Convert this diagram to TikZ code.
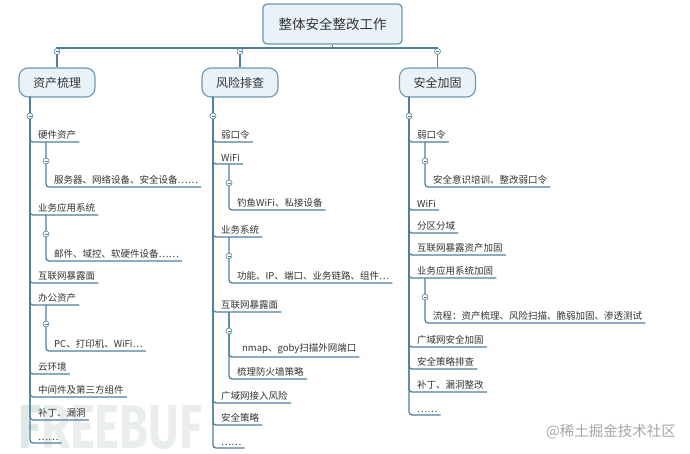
\documentclass[tikz,border=0pt]{standalone}
\usepackage{fontspec}
\setmainfont{Noto Sans CJK SC}
\newfontfamily\wmfont{Fira Sans}
\definecolor{linec}{HTML}{4F7F99}
\definecolor{boxline}{HTML}{6F97B0}
\definecolor{boxfill}{HTML}{EAF2F9}
\definecolor{txtc}{HTML}{333333}
\definecolor{wmc}{HTML}{EAEDED}
\definecolor{wmf}{HTML}{DDE9E9}
\tikzset{
  conn/.style={draw=linec, line width=1.3pt, rounded corners=3pt},
  topconn/.style={draw=linec, line width=1.3pt},
  item/.style={anchor=south west, inner xsep=0pt, inner ysep=2.5pt, text=txtc,
    font=\fontsize{9.5}{11}\selectfont},
  lvlone/.style={draw=boxline, fill=boxfill, line width=1.1pt, rounded corners=9pt,
    minimum width=76pt, minimum height=29pt, inner sep=0pt, text=txtc,
    font=\fontsize{12}{14}\selectfont},
  rootbox/.style={draw=boxline, fill=boxfill, line width=1.3pt, rounded corners=4pt,
    minimum width=139pt, minimum height=40pt, inner sep=0pt, text=txtc,
    font=\fontsize{13.5}{16}\selectfont},
  mcirc/.style={circle, draw=linec, fill=white, minimum size=6pt, inner sep=0pt, line width=0.6pt,
    path picture={\draw[linec, line width=0.5pt] ([xshift=-1.5pt]path picture bounding box.center) -- ([xshift=1.5pt]path picture bounding box.center);}},
}
\begin{document}
\begin{tikzpicture}[x=1pt,y=-1pt]
\useasboundingbox[fill=white] (0,0) rectangle (690,454);
% watermarks
\node[anchor=base west, inner sep=0pt, xscale=0.76, text=wmc,
  font=\wmfont\bfseries\fontsize{62}{62}\selectfont] (wm1) at (18,448) {\textcolor{wmf}{F}REEBUF};
\node[text=black!35, font=\fontsize{14.5}{16}\selectfont, inner sep=0pt] (wm2) at (611,432) {@稀土掘金技术社区};

% root and level one
\node[rootbox] (root) at (332.5,24) {整体安全整改工作};
\node[lvlone] (k1) at (57,82.5) {资产梳理};
\node[lvlone] (k2) at (240,82.5) {风险排查};
\node[lvlone] (k3) at (437.5,82.5) {安全加固};
\draw[topconn] (root.south) -- ++(0,3.5) -| (k1.north);
\draw[topconn] (root.south) -- ++(0,3.5) -| (k2.north);
\draw[topconn] (root.south) -- ++(0,3.5) -| (k3.north);

\coordinate (t1) at (30,97);
\coordinate (t2) at (213,97);
\coordinate (t3) at (409,97);

% column 1
\node[item] (a1) at (38,142) {硬件资产};
\node[item] (a1s) at (54,187) {服务器、网络设备、安全设备……};
\node[item] (a2) at (38,215) {业务应用系统};
\node[item] (a2s) at (54,261) {邮件、域控、软硬件设备……};
\node[item] (a3) at (38,283) {互联网暴露面};
\node[item] (a4) at (38,305) {办公资产};
\node[item] (a4s) at (54,351) {PC、打印机、WiFi…};
\node[item] (a5) at (38,374) {云环境};
\node[item] (a6) at (38,397) {中间件及第三方组件};
\node[item] (a7) at (38,420) {补丁、漏洞};
\node[item] (a8) at (38,443) {……};
\foreach \n in {a1,a2,a3,a4,a5,a6,a7,a8}
  \draw[conn] (t1) |- ([xshift=3pt]\n.south east);
\draw[conn] ([xshift=8pt]a1.south west) |- ([xshift=3pt]a1s.south east);
\draw[conn] ([xshift=8pt]a2.south west) |- ([xshift=3pt]a2s.south east);
\draw[conn] ([xshift=8pt]a4.south west) |- ([xshift=3pt]a4s.south east);

% column 2
\node[item] (b1) at (221,142) {弱口令};
\node[item] (b2) at (221,164) {WiFi};
\node[item] (b2s) at (237,210) {钓鱼WiFi、私接设备};
\node[item] (b3) at (221,237) {业务系统};
\node[item] (b3s) at (237,283) {功能、IP、端口、业务链路、组件…};
\node[item] (b4) at (221,312) {互联网暴露面};
\node[item] (b4s) at (242,357) {nmap、goby扫描外网端口};
\node[item] (b4t) at (237,379) {梳理防火墙策略};
\node[item] (b5) at (221,403) {广域网接入风险};
\node[item] (b6) at (221,425) {安全策略};
\node[item] (b7) at (221,448) {……};
\foreach \n in {b1,b2,b3,b4,b5,b6,b7}
  \draw[conn] (t2) |- ([xshift=3pt]\n.south east);
\draw[conn] ([xshift=8pt]b2.south west) |- ([xshift=3pt]b2s.south east);
\draw[conn] ([xshift=8pt]b3.south west) |- ([xshift=3pt]b3s.south east);
\draw[conn] ([xshift=8pt]b4.south west) |- ([xshift=3pt]b4s.south east);
\draw[conn] ([xshift=8pt]b4.south west) |- ([xshift=3pt]b4t.south east);

% column 3
\node[item] (c1) at (417,142) {弱口令};
\node[item] (c1s) at (433,187) {安全意识培训、整改弱口令};
\node[item] (c2) at (417,210) {WiFi};
\node[item] (c3) at (417,233) {分区分域};
\node[item] (c4) at (417,255) {互联网暴露资产加固};
\node[item] (c5) at (417,278) {业务应用系统加固};
\node[item] (c5s) at (433,323) {流程：资产梳理、风险扫描、脆弱加固、渗透测试};
\node[item] (c6) at (417,347) {广域网安全加固};
\node[item] (c7) at (417,369) {安全策略排查};
\node[item] (c8) at (417,392) {补丁、漏洞整改};
\node[item] (c9) at (417,415) {……};
\foreach \n in {c1,c2,c3,c4,c5,c6,c7,c8,c9}
  \draw[conn] (t3) |- ([xshift=3pt]\n.south east);
\draw[conn] ([xshift=8pt]c1.south west) |- ([xshift=3pt]c1s.south east);
\draw[conn] ([xshift=8pt]c5.south west) |- ([xshift=3pt]c5s.south east);

% collapse markers
\node[mcirc] (m0a) at ([yshift=16pt]k1.north) {};
\node[mcirc] (m0b) at ([yshift=16pt]k2.north) {};
\node[mcirc] (m0c) at ([yshift=16pt]k3.north) {};
\node[mcirc] (m1) at ([yshift=-19pt]t1) {};
\node[mcirc] (m2) at ([yshift=-19pt]t2) {};
\node[mcirc] (m3) at ([yshift=-19pt]t3) {};
\foreach \n in {a1,a2,a4,b2,b3,b4,c1,c5}
  \node[mcirc] (m\n) at ([xshift=8pt,yshift=-19pt]\n.south west) {};
\end{tikzpicture}
\end{document}
